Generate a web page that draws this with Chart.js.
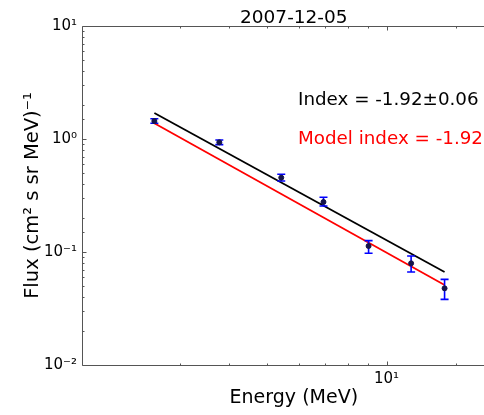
<!DOCTYPE html>
<html>
<head>
<meta charset="utf-8">
<script src="https://cdn.jsdelivr.net/npm/chart.js@4.4.1/dist/chart.umd.min.js"></script>
<style>
  html, body { margin: 0; padding: 0; background: #ffffff; overflow: hidden; }
  canvas { display: block; }
</style>
</head>
<body>
<canvas id="c" width="484" height="415"></canvas>
<script>
// Proton spectrum, 2007-12-05
const energy  = [2.59, 3.78, 5.42, 6.93, 9.01, 11.54, 14.02];   // MeV
const flux    = [1.44, 0.935, 0.455, 0.277, 0.113, 0.0794, 0.0477];
const fluxLo  = [1.377, 0.891, 0.425, 0.255, 0.0974, 0.0665, 0.0381];
const fluxHi  = [1.51, 0.98, 0.487, 0.305, 0.126, 0.0922, 0.0573];

// Power-law fit and model, drawn between the first and last channel
const fitEnergy  = [2.59, 14.02];
const fitFlux    = [1.70, 0.0665];
const modelFlux  = [1.38, 0.051];

// energy range of the axes; the panel is cut at the right-hand side
const xMin = 1.7, xVisibleMax = 17.13, xFullMax = 20;
const yMin = 0.01, yMax = 10;

const titleText  = '2007-12-05';
const indexText  = 'Index = -1.92\u00b10.06';
const modelText  = 'Model index = -1.92';
const xLabel     = 'Energy (MeV)';
const yLabel     = 'Flux (cm\u00b2 s sr MeV)\u207b\u00b9';

const FONT = "'DejaVu Sans', sans-serif";
const SUP = { '-': '\u207b', '0': '\u2070', '1': '\u00b9', '2': '\u00b2', '3': '\u00b3' };

function decadeLabel(v) {
  const e = Math.log10(v);
  const r = Math.round(e);
  if (Math.abs(e - r) > 1e-6) return '';
  return '10' + String(r).split('').map(ch => SUP[ch]).join('');
}

// error bars, inward ticks, spines, title, x label and annotation text
const decorations = {
  id: 'decorations',
  beforeDatasetDraw(chart, args) {
    if (args.index !== 0) return;
    const { ctx } = chart;
    const xs = chart.scales.x, ys = chart.scales.y;
    ctx.save();
    ctx.strokeStyle = '#0000ff';
    ctx.lineWidth = 1.6;
    for (let i = 0; i < energy.length; i++) {
      const px = xs.getPixelForValue(energy[i]);
      const top = ys.getPixelForValue(fluxHi[i]);
      const bot = ys.getPixelForValue(fluxLo[i]);
      ctx.beginPath();
      ctx.moveTo(px, top); ctx.lineTo(px, bot);
      ctx.moveTo(px - 4, top); ctx.lineTo(px + 4, top);
      ctx.moveTo(px - 4, bot); ctx.lineTo(px + 4, bot);
      ctx.stroke();
    }
    ctx.restore();
  },
  afterDraw(chart) {
    const { ctx, chartArea: a } = chart;
    const xs = chart.scales.x, ys = chart.scales.y;
    const L = Math.round(a.left) + 0.5, T = Math.round(a.top) + 0.5, B = Math.round(a.bottom) + 0.5;
    ctx.save();
    ctx.strokeStyle = '#555555';
    ctx.lineWidth = 1;
    // spines: left, top, bottom
    ctx.beginPath();
    ctx.moveTo(L, B); ctx.lineTo(L, T); ctx.lineTo(chart.width + 2, T);
    ctx.moveTo(L, B); ctx.lineTo(chart.width + 2, B);
    ctx.stroke();
    // ticks pointing into the plot
    ctx.beginPath();
    xs.ticks.forEach(t => {
      if (t.value <= xMin || t.value >= xVisibleMax) return;
      const px = Math.round(xs.getPixelForValue(t.value)) + 0.5;
      const len = decadeLabel(t.value) ? 4 : 2;
      ctx.moveTo(px, B); ctx.lineTo(px, B - len);
      ctx.moveTo(px, T); ctx.lineTo(px, T + len);
    });
    ys.ticks.forEach(t => {
      const py = Math.round(ys.getPixelForValue(t.value)) + 0.5;
      const len = decadeLabel(t.value) ? 4 : 2;
      ctx.moveTo(L, py); ctx.lineTo(L + len, py);
    });
    ctx.stroke();

    // title and x label centred on the full energy axis
    const cx = (a.left + xs.getPixelForValue(xFullMax)) / 2;
    ctx.fillStyle = '#000000';
    ctx.textAlign = 'center';
    ctx.textBaseline = 'alphabetic';
    ctx.font = '18.5px ' + FONT;
    ctx.fillText(titleText, cx, 22.5);
    ctx.font = '19px ' + FONT;
    ctx.fillText(xLabel, cx, a.bottom + 38);

    // fit annotations
    ctx.font = '18.3px ' + FONT;
    ctx.textAlign = 'left';
    const tx = a.left + 216;
    ctx.fillStyle = '#000000';
    ctx.fillText(indexText, tx, a.top + 79);
    ctx.fillStyle = '#ff0000';
    ctx.fillText(modelText, tx, a.top + 118);
    ctx.restore();
  }
};

new Chart(document.getElementById('c'), {
  type: 'scatter',
  data: {
    datasets: [
      {
        label: 'Flux',
        data: energy.map((e, i) => ({ x: e, y: flux[i] })),
        backgroundColor: '#14144a',
        borderColor: '#14144a',
        pointRadius: 2.5,
        pointHoverRadius: 2.5,
        order: 0
      },
      {
        label: 'Fit',
        type: 'line',
        data: fitEnergy.map((e, i) => ({ x: e, y: fitFlux[i] })),
        borderColor: '#000000',
        borderWidth: 1.8,
        pointRadius: 0,
        fill: false,
        order: 2
      },
      {
        label: 'Model',
        type: 'line',
        data: fitEnergy.map((e, i) => ({ x: e, y: modelFlux[i] })),
        borderColor: '#ff0000',
        borderWidth: 1.8,
        pointRadius: 0,
        fill: false,
        order: 1
      }
    ]
  },
  options: {
    responsive: false,
    animation: false,
    layout: { padding: { left: 0, right: 0, top: 26, bottom: 0 } },
    plugins: {
      legend: { display: false },
      tooltip: { enabled: false },
      title: { display: false }
    },
    scales: {
      x: {
        type: 'logarithmic',
        min: xMin,
        max: xVisibleMax,
        grid: { display: false, drawTicks: false },
        border: { display: false },
        ticks: {
          autoSkip: false,
          maxRotation: 0,
          padding: 5,
          color: '#000000',
          font: { family: FONT, size: 15 },
          callback: v => decadeLabel(v)
        },
        title: { display: false },
        afterFit: s => { s.height = 50; }
      },
      y: {
        type: 'logarithmic',
        min: yMin,
        max: yMax,
        grid: { display: false, drawTicks: false },
        border: { display: false },
        ticks: {
          autoSkip: false,
          padding: 5,
          color: '#000000',
          font: { family: FONT, size: 15 },
          callback: v => decadeLabel(v)
        },
        title: {
          display: true,
          text: yLabel,
          color: '#000000',
          font: { family: FONT, size: 19.5 },
          padding: { top: 21, bottom: 0 }
        },
        afterFit: s => { s.width = 82; }
      }
    }
  },
  plugins: [decorations]
});
</script>
</body>
</html>
